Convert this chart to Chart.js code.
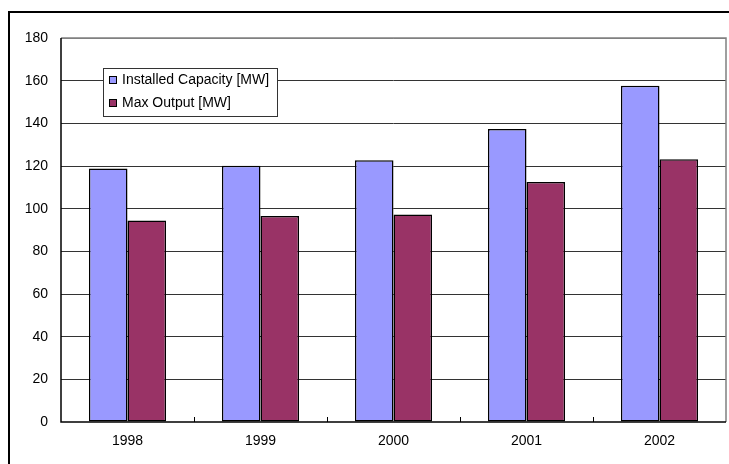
<!DOCTYPE html>
<html>
<head>
<meta charset="utf-8">
<script src="https://cdn.jsdelivr.net/npm/chart.js@4/dist/chart.umd.min.js"></script>
<style>
  html, body { margin: 0; padding: 0; background: #fff; }
  #wrap { position: relative; width: 729px; height: 464px; }
</style>
</head>
<body>
<div id="wrap"><canvas id="chart" width="729" height="464"></canvas></div>
<script>
// values
const years = ['1998', '1999', '2000', '2001', '2002'];
const installedCapacity = [118.8, 120.1, 122.7, 137.3, 157.6];
const maxOutput = [94.4, 96.6, 97.3, 112.5, 123.2];
const yTicks = [0, 20, 40, 60, 80, 100, 120, 140, 160, 180];

const FONT = 'Liberation Sans, Arial, sans-serif';

// outer frame, plot frame, category tick marks and the boxed legend
const excelLook = {
  id: 'excelLook',
  beforeDraw(chart) {
    const ctx = chart.ctx;
    ctx.save();
    ctx.strokeStyle = '#000';
    ctx.lineWidth = 2;
    ctx.beginPath();
    ctx.moveTo(9, 464);
    ctx.lineTo(9, 12);
    ctx.lineTo(729, 12);
    ctx.stroke();
    ctx.restore();
  },
  afterDatasetsDraw(chart) {
    const ctx = chart.ctx;
    const a = chart.chartArea;
    const x = chart.scales.x;
    ctx.save();
    // gray frame top/right
    ctx.strokeStyle = '#808080';
    ctx.lineWidth = 1.5;
    ctx.beginPath();
    ctx.moveTo(a.left, a.top);
    ctx.lineTo(a.right, a.top);
    ctx.lineTo(a.right, a.bottom);
    ctx.stroke();
    // black axes
    ctx.strokeStyle = '#000';
    ctx.lineWidth = 1.5;
    ctx.beginPath();
    ctx.moveTo(a.left, a.top);
    ctx.lineTo(a.left, a.bottom);
    ctx.lineTo(a.right, a.bottom);
    ctx.stroke();
    // small inner ticks between categories
    ctx.lineWidth = 1;
    ctx.beginPath();
    for (let i = 1; i < years.length; i++) {
      const bx = Math.round((x.getPixelForValue(i - 1) + x.getPixelForValue(i)) / 2) + 0.5;
      ctx.moveTo(bx, a.bottom);
      ctx.lineTo(bx, a.bottom - 5);
    }
    ctx.stroke();

    // legend box
    const lx = 103, ly = 68, lw = 174, lh = 48;
    ctx.fillStyle = '#fff';
    ctx.fillRect(lx, ly, lw, lh);
    ctx.strokeStyle = '#333';
    ctx.lineWidth = 1;
    ctx.strokeRect(lx + 0.5, ly + 0.5, lw, lh);
    ctx.font = '14px ' + FONT;
    ctx.textBaseline = 'middle';
    chart.data.datasets.forEach((ds, i) => {
      const cy = ly + 12 + i * 23;
      ctx.fillStyle = ds.backgroundColor;
      ctx.fillRect(lx + 6, cy - 4, 8, 8);
      ctx.strokeStyle = '#000';
      ctx.strokeRect(lx + 6.5, cy - 3.5, 7, 7);
      ctx.fillStyle = '#000';
      ctx.fillText(ds.label, lx + 19, cy);
    });
    ctx.restore();
  }
};

new Chart(document.getElementById('chart'), {
  type: 'bar',
  data: {
    labels: years,
    datasets: [
      {
        label: 'Installed Capacity [MW]',
        data: installedCapacity,
        backgroundColor: '#9999FF',
        borderColor: '#000',
        borderWidth: 1.5,
        borderSkipped: false
      },
      {
        label: 'Max Output [MW]',
        data: maxOutput,
        backgroundColor: '#993366',
        borderColor: '#000',
        borderWidth: 1.5,
        borderSkipped: false
      }
    ]
  },
  options: {
    responsive: false,
    animation: false,
    layout: { padding: { top: 38, right: 3, left: 0, bottom: 0 } },
    datasets: { bar: { categoryPercentage: 0.58, barPercentage: 1 } },
    plugins: {
      legend: { display: false },
      tooltip: { enabled: false }
    },
    scales: {
      x: {
        grid: { display: false, drawTicks: false },
        border: { display: false },
        ticks: { color: '#000', font: { family: FONT, size: 14 }, padding: 11 },
        afterFit(s) { s.height = 42; }
      },
      y: {
        min: 0,
        max: 180,
        afterBuildTicks(s) { s.ticks = yTicks.map(v => ({ value: v })); },
        grid: {
          drawTicks: false,
          color: c => (c.tick && c.tick.value === 180) ? '#808080' : (c.tick && c.tick.value === 0 ? 'rgba(0,0,0,0)' : '#333'),
          lineWidth: 1
        },
        border: { display: false },
        ticks: { color: '#000', font: { family: FONT, size: 14 }, padding: 13 },
        afterFit(s) { s.width = 61; }
      }
    }
  },
  plugins: [excelLook]
});
</script>
</body>
</html>
